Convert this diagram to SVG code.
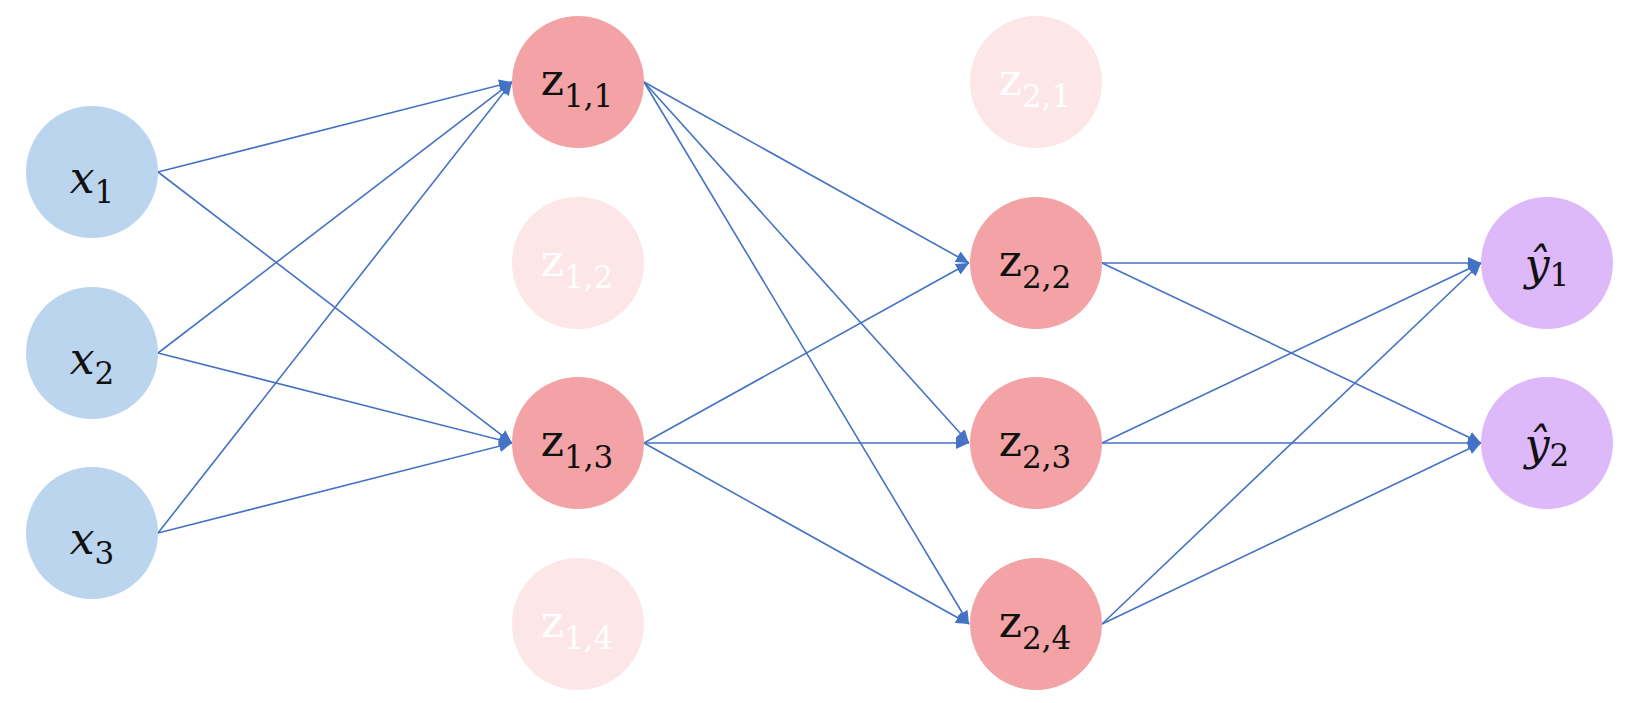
<svg xmlns="http://www.w3.org/2000/svg" width="1627" height="703" viewBox="0 0 1627 703">
  <style>
    .in { fill: #BBD5EE; }
    .hid { fill: #F3A3A5; }
    .dim { fill: #FDE6E7; }
    .out { fill: #DDB9FA; }
    .lab { font-family: "DejaVu Serif", "Liberation Serif", serif; fill: #111111; }
    .dimlab { font-family: "DejaVu Serif", "Liberation Serif", serif; fill: #ffffff; }
    .v { font-style: italic; font-size: 44px; }
    .z { font-size: 44px; }
    .s { font-size: 31px; }
    .edge { stroke: #4472C4; stroke-width: 1.6; fill: none; marker-end: url(#arrow); }
  </style>
  <defs>
    <marker id="arrow" markerUnits="userSpaceOnUse" markerWidth="14" markerHeight="12" refX="13" refY="6" orient="auto">
      <path d="M0,0 L13,6 L0,12 Z" fill="#4472C4"/>
    </marker>
  </defs>
  <rect width="1627" height="703" fill="#ffffff"/>

  <!-- connectors -->
  <g id="connectors">
    <!-- input layer to first hidden layer -->
    <line class="edge" x1="158" y1="172" x2="512" y2="82"/>
    <line class="edge" x1="158" y1="172" x2="512" y2="443"/>
    <line class="edge" x1="158" y1="353" x2="512" y2="82"/>
    <line class="edge" x1="158" y1="353" x2="512" y2="443"/>
    <line class="edge" x1="158" y1="533" x2="512" y2="82"/>
    <line class="edge" x1="158" y1="533" x2="512" y2="443"/>
    <!-- first hidden layer to second hidden layer -->
    <line class="edge" x1="644" y1="82" x2="969" y2="263"/>
    <line class="edge" x1="644" y1="82" x2="969" y2="443"/>
    <line class="edge" x1="644" y1="82" x2="969" y2="624"/>
    <line class="edge" x1="644" y1="443" x2="969" y2="263"/>
    <line class="edge" x1="644" y1="443" x2="969" y2="443"/>
    <line class="edge" x1="644" y1="443" x2="969" y2="624"/>
    <!-- second hidden layer to outputs -->
    <line class="edge" x1="1102" y1="263" x2="1481" y2="263"/>
    <line class="edge" x1="1102" y1="263" x2="1481" y2="443"/>
    <line class="edge" x1="1102" y1="443" x2="1481" y2="263"/>
    <line class="edge" x1="1102" y1="443" x2="1481" y2="443"/>
    <line class="edge" x1="1102" y1="624" x2="1481" y2="263"/>
    <line class="edge" x1="1102" y1="624" x2="1481" y2="443"/>
  </g>

  <!-- input layer -->
  <g id="x1">
    <circle class="in" cx="92" cy="172" r="66"/>
    <text class="lab" x="92" y="193" text-anchor="middle"><tspan class="v">x</tspan><tspan class="s" dy="10">1</tspan></text>
  </g>
  <g id="x2">
    <circle class="in" cx="92" cy="353" r="66"/>
    <text class="lab" x="92" y="374" text-anchor="middle"><tspan class="v">x</tspan><tspan class="s" dy="10">2</tspan></text>
  </g>
  <g id="x3">
    <circle class="in" cx="92" cy="533" r="66"/>
    <text class="lab" x="92" y="554" text-anchor="middle"><tspan class="v">x</tspan><tspan class="s" dy="10">3</tspan></text>
  </g>

  <!-- first hidden layer -->
  <g id="z11">
    <circle class="hid" cx="578" cy="82" r="66"/>
    <text class="lab" x="577" y="95" text-anchor="middle"><tspan class="z">z</tspan><tspan class="s" dy="12">1,1</tspan></text>
  </g>
  <g id="z12">
    <circle class="dim" cx="578" cy="263" r="66"/>
    <text class="dimlab" x="577" y="276" text-anchor="middle"><tspan class="z">z</tspan><tspan class="s" dy="12">1,2</tspan></text>
  </g>
  <g id="z13">
    <circle class="hid" cx="578" cy="443" r="66"/>
    <text class="lab" x="577" y="456" text-anchor="middle"><tspan class="z">z</tspan><tspan class="s" dy="12">1,3</tspan></text>
  </g>
  <g id="z14">
    <circle class="dim" cx="578" cy="624" r="66"/>
    <text class="dimlab" x="577" y="637" text-anchor="middle"><tspan class="z">z</tspan><tspan class="s" dy="12">1,4</tspan></text>
  </g>

  <!-- second hidden layer -->
  <g id="z21">
    <circle class="dim" cx="1036" cy="82" r="66"/>
    <text class="dimlab" x="1035" y="95" text-anchor="middle"><tspan class="z">z</tspan><tspan class="s" dy="12">2,1</tspan></text>
  </g>
  <g id="z22">
    <circle class="hid" cx="1036" cy="263" r="66"/>
    <text class="lab" x="1035" y="276" text-anchor="middle"><tspan class="z">z</tspan><tspan class="s" dy="12">2,2</tspan></text>
  </g>
  <g id="z23">
    <circle class="hid" cx="1036" cy="443" r="66"/>
    <text class="lab" x="1035" y="456" text-anchor="middle"><tspan class="z">z</tspan><tspan class="s" dy="12">2,3</tspan></text>
  </g>
  <g id="z24">
    <circle class="hid" cx="1036" cy="624" r="66"/>
    <text class="lab" x="1035" y="637" text-anchor="middle"><tspan class="z">z</tspan><tspan class="s" dy="12">2,4</tspan></text>
  </g>

  <!-- output layer -->
  <g id="y1">
    <circle class="out" cx="1547" cy="263" r="66"/>
    <text class="lab" x="1547" y="280" text-anchor="middle"><tspan class="v">ŷ</tspan><tspan class="s" dy="6">1</tspan></text>
  </g>
  <g id="y2">
    <circle class="out" cx="1547" cy="443" r="66"/>
    <text class="lab" x="1547" y="460" text-anchor="middle"><tspan class="v">ŷ</tspan><tspan class="s" dy="6">2</tspan></text>
  </g>
</svg>
